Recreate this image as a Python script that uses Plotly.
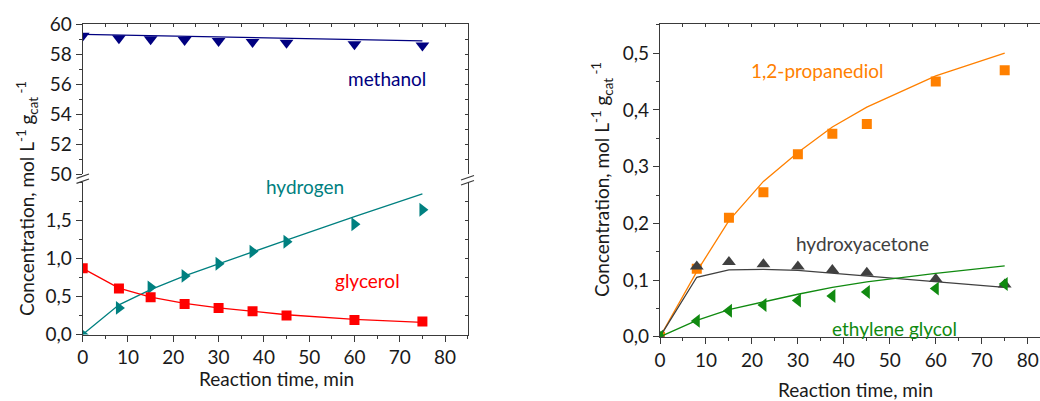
import plotly.graph_objects as go

# ---------------- data ----------------
time_pts = [0, 8, 15, 22.5, 30, 37.5, 45, 60, 75]

methanol_pts = [59.24, 59.07, 59.00, 58.95, 58.89, 58.82, 58.77, 58.67, 58.58]
methanol_fit = [59.33, 59.28, 59.23, 59.18, 59.13, 59.08, 59.03, 58.95, 58.89]

hydrogen_pts = [0.0, 0.35, 0.62, 0.77, 0.93, 1.09, 1.22, 1.45, 1.64]
hydrogen_fit = [0.0, 0.39, 0.59, 0.77, 0.93, 1.09, 1.24, 1.55, 1.85]

glycerol_pts = [0.87, 0.605, 0.49, 0.40, 0.35, 0.305, 0.25, 0.19, 0.17]
glycerol_fit = [0.87, 0.61, 0.49, 0.41, 0.35, 0.30, 0.26, 0.20, 0.16]

propanediol_pts = [0.0, 0.12, 0.21, 0.255, 0.322, 0.358, 0.375, 0.45, 0.47]
propanediol_fit = [0.0, 0.115, 0.205, 0.274, 0.325, 0.370, 0.405, 0.460, 0.500]

hydroxyacetone_pts = [0.0, 0.124, 0.132, 0.128, 0.124, 0.118, 0.113, 0.102, 0.092]
hydroxyacetone_fit = [0.0, 0.105, 0.118, 0.119, 0.117, 0.112, 0.107, 0.097, 0.087]

eg_pts = [0.0, 0.028, 0.046, 0.056, 0.064, 0.072, 0.079, 0.085, 0.093]
eg_fit = [0.0, 0.029, 0.048, 0.062, 0.075, 0.087, 0.097, 0.112, 0.125]

x_ticks = [0, 10, 20, 30, 40, 50, 60, 70, 80]
upper_ticks = [50, 52, 54, 56, 58, 60]
lower_ticks = [0, 0.5, 1.0, 1.5]
right_ticks = [0, 0.1, 0.2, 0.3, 0.4, 0.5]

# ---------------- style ----------------
FONT = "Lato, 'Liberation Sans', Arial, sans-serif"
AX = "#3a3a3a"
TXT = "#1a1a1a"
C_METH = "#000080"
C_H2 = "#008080"
C_GLY = "#ff0000"
C_PD = "#ff8000"
C_HA = "#404040"
C_EG = "#108a10"

W, H = 1040, 401


def px(x):
    return x / W


def py(y):
    return 1 - y / H


fig = go.Figure()


def add_series(x, pts, fit, color, symbol, msize, xa, ya, name):
    fig.add_trace(go.Scatter(x=x, y=fit, mode="lines", line=dict(color=color, width=1.3),
                             xaxis=xa, yaxis=ya, showlegend=False, name=name + " fit"))
    fig.add_trace(go.Scatter(x=x, y=pts, mode="markers",
                             marker=dict(color=color, symbol=symbol, size=msize, line=dict(width=0)),
                             xaxis=xa, yaxis=ya, showlegend=False, name=name))


add_series(time_pts, methanol_pts, methanol_fit, C_METH, "triangle-down", 12, "x", "y2", "methanol")
add_series(time_pts, hydrogen_pts, hydrogen_fit, C_H2, "triangle-right", 12, "x", "y", "hydrogen")
add_series(time_pts, glycerol_pts, glycerol_fit, C_GLY, "square", 10, "x", "y", "glycerol")
add_series(time_pts, propanediol_pts, propanediol_fit, C_PD, "square", 10, "x5", "y5", "1,2-propanediol")
add_series(time_pts, hydroxyacetone_pts, hydroxyacetone_fit, C_HA, "triangle-up", 12, "x5", "y5", "hydroxyacetone")
add_series(time_pts, eg_pts, eg_fit, C_EG, "triangle-left", 12, "x5", "y5", "ethylene glycol")

LX = [px(82.7), px(467.7)]
RX = [px(660), 1.0]
LOW = [py(334.5), py(182.4)]
UP = [py(174.3), py(24.3)]
RY = [py(336.8), py(24.3)]

tickfont = dict(family=FONT, size=19, color=TXT)

base_line = dict(showline=True, linecolor=AX, linewidth=1.3, showgrid=False, zeroline=False,
                 automargin=False)

layout = dict(
    width=W, height=H, margin=dict(l=0, r=0, t=0, b=0, autoexpand=False),
    paper_bgcolor="white", plot_bgcolor="white",
    separators=",.",
    font=dict(family=FONT, size=19, color=TXT),
    showlegend=False,
)

# left chart bottom x
layout["xaxis"] = dict(domain=LX, range=[0, 85], anchor="y", tickvals=x_ticks, ticks="outside",
                       ticklen=6, tickcolor=AX, tickwidth=1.2, tickfont=tickfont,
                       minor=dict(tickmode="linear", tick0=5, dtick=10, ticks="outside", ticklen=3,
                                  tickcolor=AX), **base_line)
# left chart top mirror
layout["xaxis2"] = dict(overlaying="x", side="top", anchor="y2", range=[0, 85], tickmode="linear",
                        tick0=0, dtick=5, ticks="inside", ticklen=3, tickcolor=AX,
                        showticklabels=False, **base_line)
# left lower y
layout["yaxis"] = dict(domain=LOW, range=[0, 2.0], anchor="x", tickvals=lower_ticks, tickformat=".1f",
                       ticks="outside", ticklen=6, tickcolor=AX, tickwidth=1.2, tickfont=tickfont,
                       minor=dict(tickmode="linear", tick0=0, dtick=0.25, ticks="outside", ticklen=3,
                                  tickcolor=AX), **base_line)
# left upper y
layout["yaxis2"] = dict(domain=UP, range=[50, 60], anchor="x", tickvals=upper_ticks,
                        ticks="outside", ticklen=6, tickcolor=AX, tickwidth=1.2, tickfont=tickfont,
                        minor=dict(tickmode="linear", tick0=50, dtick=1, ticks="outside", ticklen=3,
                                   tickcolor=AX), **base_line)
# left right-side mirrors
layout["yaxis3"] = dict(overlaying="y", side="right", anchor="x", range=[0, 2.0], tickmode="linear",
                        tick0=0, dtick=0.25, ticks="inside", ticklen=3, tickcolor=AX,
                        showticklabels=False, **base_line)
layout["yaxis4"] = dict(overlaying="y2", side="right", anchor="x", range=[50, 60], tickmode="linear",
                        tick0=50, dtick=1, ticks="inside", ticklen=3, tickcolor=AX,
                        showticklabels=False, **base_line)
# right chart
layout["xaxis5"] = dict(domain=RX, range=[0, 82.68], anchor="y5", tickvals=x_ticks, ticks="outside",
                        ticklen=6, tickcolor=AX, tickwidth=1.2, tickfont=tickfont,
                        minor=dict(tickmode="linear", tick0=5, dtick=10, ticks="outside", ticklen=3,
                                   tickcolor=AX), **base_line)
layout["xaxis6"] = dict(overlaying="x5", side="top", anchor="y5", range=[0, 82.68], tickmode="linear",
                        tick0=0, dtick=5, ticks="inside", ticklen=3, tickcolor=AX,
                        showticklabels=False, **base_line)
layout["yaxis5"] = dict(domain=RY, range=[0, 0.551], anchor="x5", tickvals=right_ticks, tickformat=".1f",
                        ticks="outside", ticklen=6, tickcolor=AX, tickwidth=1.2, tickfont=tickfont,
                        minor=dict(tickmode="linear", tick0=0, dtick=0.05, ticks="outside", ticklen=3,
                                   tickcolor=AX), **base_line)

fig.update_layout(**layout)

# dummy traces to activate mirror axes
for xa, ya in [("x2", "y2"), ("x", "y3"), ("x", "y4"), ("x6", "y5")]:
    fig.add_trace(go.Scatter(x=[None], y=[None], xaxis=xa, yaxis=ya, showlegend=False, hoverinfo="skip"))

# axis break marks
breaks = [
    (76.5, 178.3, 89.0, 174.0), (76.5, 183.3, 89.0, 179.0),
    (461.0, 180.0, 474.0, 175.5), (461.0, 185.0, 474.0, 180.5),
]
for (x0, y0, x1, y1) in breaks:
    fig.add_shape(type="line", xref="paper", yref="paper", x0=px(x0), y0=py(y0), x1=px(x1), y1=py(y1),
                  line=dict(color=AX, width=1.3))

# series labels
labels = [
    ("methanol", 67.2, 56.4, "x", "y2", C_METH),
    ("hydrogen", 49.0, 1.94, "x", "y", C_H2),
    ("glycerol", 62.8, 0.71, "x", "y", C_GLY),
    ("1,2-propanediol", 34.2, 0.470, "x5", "y5", C_PD),
    ("hydroxyacetone", 44.0, 0.164, "x5", "y5", C_HA),
    ("ethylene glycol", 51.1, 0.0155, "x5", "y5", C_EG),
]
for t, x, y, xr, yr, c in labels:
    fig.add_annotation(text=t, x=x, y=y, xref=xr, yref=yr, showarrow=False,
                       font=dict(family=FONT, size=19, color=c), xanchor="center", yanchor="middle")

ytitle = "Concentration, mol L<sup>-1</sup> g<sub>cat</sub><sup> -1</sup>"
fig.add_annotation(text=ytitle, x=px(27), y=py(199), xref="paper", yref="paper", textangle=-90,
                   showarrow=False, font=dict(family=FONT, size=19, color=TXT),
                   xanchor="center", yanchor="middle")
fig.add_annotation(text=ytitle, x=px(602), y=py(180), xref="paper", yref="paper", textangle=-90,
                   showarrow=False, font=dict(family=FONT, size=19, color=TXT),
                   xanchor="center", yanchor="middle")
fig.add_annotation(text="Reaction time, min", x=px(276), y=py(378), xref="paper", yref="paper",
                   showarrow=False, font=dict(family=FONT, size=19, color=TXT),
                   xanchor="center", yanchor="middle")
fig.add_annotation(text="Reaction time, min", x=px(855), y=py(389), xref="paper", yref="paper",
                   showarrow=False, font=dict(family=FONT, size=19, color=TXT),
                   xanchor="center", yanchor="middle")

fig.write_html("out.html")
